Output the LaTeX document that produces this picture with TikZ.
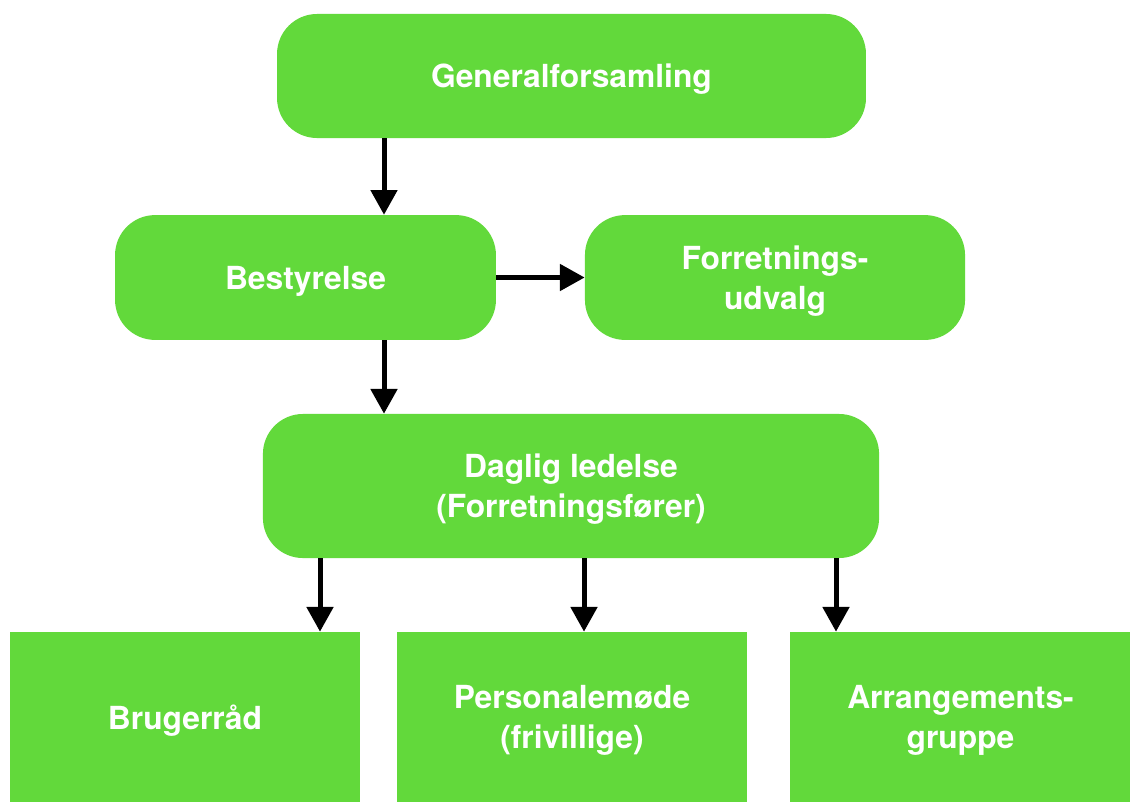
\documentclass[tikz,border=0pt]{standalone}
\usepackage{fontspec}
\setmainfont{TeX Gyre Heros}
\usepackage{xcolor}
\usetikzlibrary{positioning,arrows.meta}
\definecolor{boxgreen}{RGB}{98,217,59}
\begin{document}
\begin{tikzpicture}[x=0.025cm, y=-0.025cm,
        orgbox/.style={fill=boxgreen, text=white, align=center, inner sep=0pt, text depth=0pt,
            font=\fontsize{22.6}{28.5}\selectfont\bfseries},
        roundbox/.style={orgbox, rounded corners=1cm},
        flow/.style={-{Triangle[length=0.62cm, width=0.65cm]}, line width=0.125cm}]
        \useasboundingbox (0,0) rectangle (1130,803);
        \node[roundbox, minimum width=14.72cm, minimum height=3.1cm] (gen) at (571.5,76) {Generalforsamling};
        \node[roundbox, minimum width=9.52cm, minimum height=3.12cm] (best) at (305.5,277.5) {Bestyrelse};
        \node[roundbox, minimum width=9.5cm, minimum height=3.12cm] (fu) at (775,277.5) {Forretnings-\\udvalg};
        \node[roundbox, minimum width=15.4cm, minimum height=3.6cm] (dl) at (571,486) {Daglig ledelse\\(Forretningsfører)};
        \node[orgbox, minimum width=8.75cm, minimum height=4.25cm] (br) at (185,717) {Brugerråd};
        \node[orgbox, minimum width=8.75cm, minimum height=4.25cm] (pm) at (572,717) {Personalemøde\\(frivillige)};
        \node[orgbox, minimum width=8.5cm, minimum height=4.25cm] (ag) at (960.5,717) {Arrangements-\\gruppe};
        \draw[flow] (gen.south -| 384,0) -- (best.north -| 384,0);
        \draw[flow] (best) -- (fu);
        \draw[flow] (best.south -| 384,0) -- (dl.north -| 384,0);
        \draw[flow] (dl.south -| 320,0) -- (br.north -| 320,0);
        \draw[flow] (dl.south -| 584,0) -- (pm.north -| 584,0);
        \draw[flow] (dl.south -| 836,0) -- (ag.north -| 836,0);
    \end{tikzpicture}
\end{document}
